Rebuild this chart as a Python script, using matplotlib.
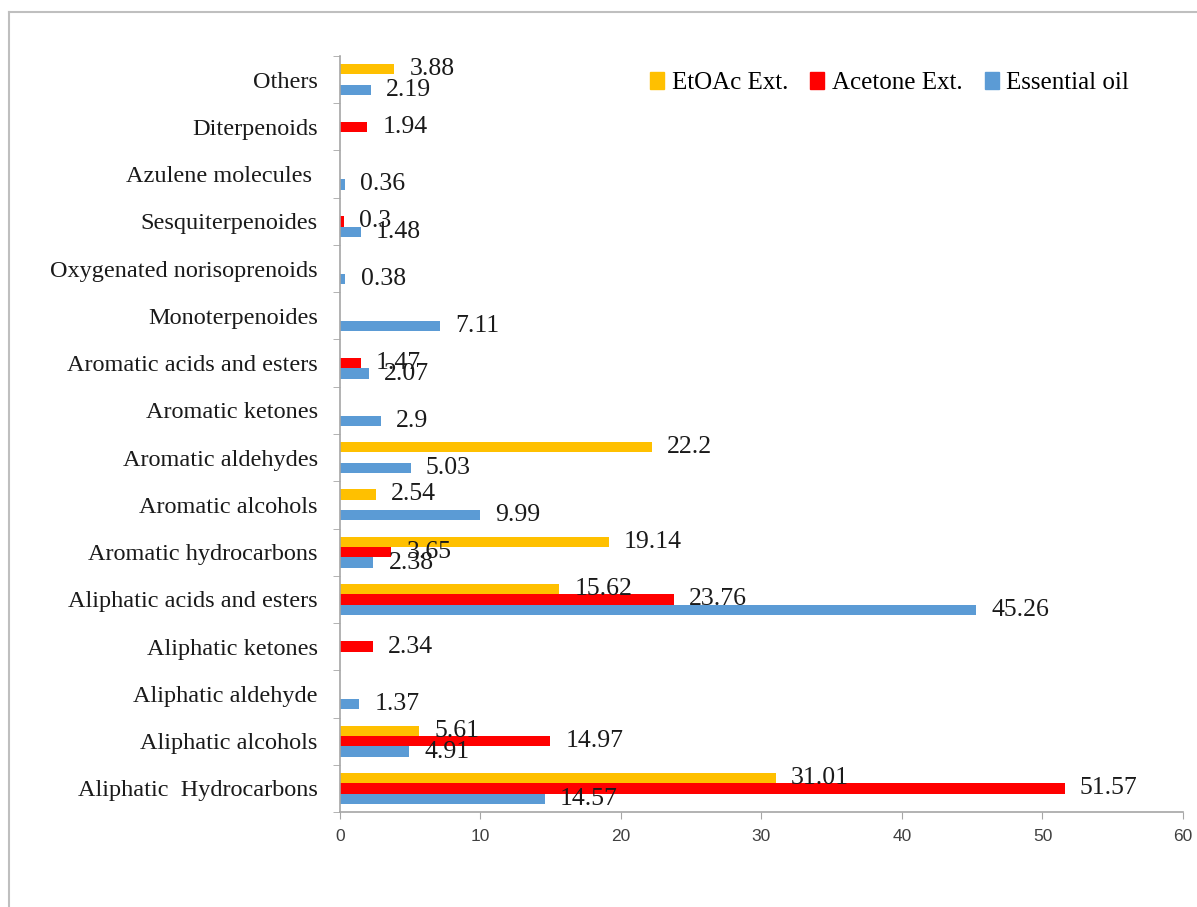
import numpy as np
import matplotlib.pyplot as plt
from matplotlib.patches import Patch
from matplotlib.lines import Line2D

# grupos de compuestos (de abajo hacia arriba)
categorias = ["Aliphatic  Hydrocarbons", "Aliphatic alcohols", "Aliphatic aldehyde",
              "Aliphatic ketones", "Aliphatic acids and esters", "Aromatic hydrocarbons",
              "Aromatic alcohols", "Aromatic aldehydes", "Aromatic ketones",
              "Aromatic acids and esters", "Monoterpenoides", "Oxygenated norisoprenoids",
              "Sesquiterpenoides", "Azulene molecules ", "Diterpenoids", "Others"]

# porcentajes por fraccion (0 = no detectado)
essential_oil = [14.57, 4.91, 1.37, 0, 45.26, 2.38, 9.99, 5.03, 2.9, 2.07, 7.11, 0.38, 1.48, 0.36, 0, 2.19]
acetone_ext = [51.57, 14.97, 0, 2.34, 23.76, 3.65, 0, 0, 0, 1.47, 0, 0, 0.3, 0, 1.94, 0]
etoac_ext = [31.01, 5.61, 0, 0, 15.62, 19.14, 2.54, 22.2, 0, 0, 0, 0, 0, 0, 0, 3.88]

x_ticks = [0, 10, 20, 30, 40, 50, 60]

series = [("Essential oil", essential_oil, "#5B9BD5"),
          ("Acetone Ext.", acetone_ext, "#FF0000"),
          ("EtOAc Ext.", etoac_ext, "#FFC000")]

fig = plt.figure(figsize=(11.97, 9.07), dpi=100)
ax = fig.add_axes([0.284, 0.1047, 0.7043, 0.8336])

y = np.arange(len(categorias))
alto = 0.22
for i, (nombre, vals, color) in enumerate(series):
    pos = y + (i - 1) * alto
    ax.barh(pos, vals, height=alto, color=color, label=nombre)
    for p, v in zip(pos, vals):
        if v == 0:
            continue
        ax.annotate(f"{v:g}", xy=(v, p), xytext=(11, 0), textcoords="offset points",
                    ha="left", va="center", family="Liberation Serif", fontsize=18.5,
                    color="#1a1a1a")

ax.set_xlim(0, 60)
ax.set_ylim(-0.5, len(categorias) - 0.5)
ax.set_xticks(x_ticks)
ax.set_xticklabels([str(t) for t in x_ticks], family="Liberation Sans", fontsize=12.5, color="#404040")
ax.set_yticks(y)
ax.set_yticklabels(categorias, family="Liberation Serif", fontsize=17.5, color="#1a1a1a")
ax.set_yticks(np.arange(-0.5, len(categorias)), minor=True)
ax.tick_params(axis="y", which="major", length=0, pad=16)
ax.tick_params(axis="y", which="minor", length=5, color="#A6A6A6")
ax.tick_params(axis="x", length=5, color="#A6A6A6", pad=7)

for s in ["top", "right"]:
    ax.spines[s].set_visible(False)
for s in ["left", "bottom"]:
    ax.spines[s].set_color("#A6A6A6")
    ax.spines[s].set_linewidth(1.2)

handles = [Patch(color=c, label=n) for n, _, c in series[::-1]]
ax.legend(handles=handles, loc="center", bbox_to_anchor=(0.652, 0.964), ncol=3, frameon=False,
          prop={"family": "Liberation Serif", "size": 18}, handlelength=0.55, handleheight=0.65,
          handletextpad=0.3, columnspacing=0.9)

# marco del area del grafico
fig.add_artist(Line2D([8.5 / 1197, 8.5 / 1197], [0, 1 - 12 / 907], color="#BFBFBF", lw=1.5))
fig.add_artist(Line2D([8.5 / 1197, 1], [1 - 12 / 907, 1 - 12 / 907], color="#BFBFBF", lw=1.5))

plt.savefig("out.png", dpi=100)
